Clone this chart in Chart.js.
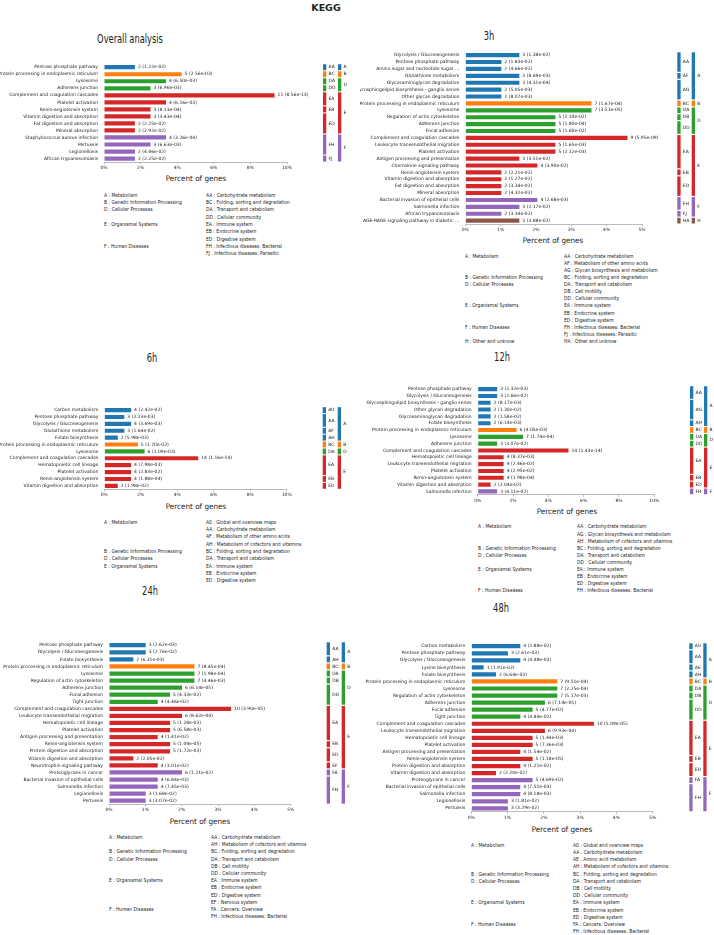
<!DOCTYPE html>
<html>
<head>
<meta charset="utf-8">
<script src="https://cdn.jsdelivr.net/npm/chart.js@4.4.1/dist/chart.umd.min.js"></script>
<style>
  body { margin: 0; background: #fff; }
  #fig { position: relative; width: 714px; height: 935px; background: #fff; overflow: hidden; font-family: 'DejaVu Sans', sans-serif; color: #222; }
  .t { position: absolute; white-space: nowrap; color: #222; }
</style>
</head>
<body>
<div id="fig"></div>
<script>
// ---- data ----
var overallPaths = ['Pentose phosphate pathway','Protein processing in endoplasmic reticulum','Lysosome','Adherens junction',
  'Complement and coagulation cascades','Platelet activation','Renin-angiotensin system','Vitamin digestion and absorption',
  'Fat digestion and absorption','Mineral absorption','Staphylococcus aureus infection','Pertussis','Legionellosis','African trypanosomiasis'];
var overallCounts = [2,5,4,3,11,4,3,3,2,2,4,3,2,2];
var overallPct = [1.69,4.24,3.39,2.54,9.32,3.39,2.54,2.54,1.69,1.69,3.39,2.54,1.69,1.69];
var overallPval = ['1.22e-02','2.56e-03','6.50e-03','6.96e-03','8.56e-13','6.16e-03','8.13e-04','3.43e-04','2.25e-02','2.92e-02','3.26e-04','6.63e-03','4.46e-02','2.25e-02'];
var overallSub = ['AA','BC','DA','DD','EA','EA','EB','ED','ED','ED','FH','FH','FH','FJ'];
var overallLegMain = ['A : Metabolism','B : Genetic Information Processing','D : Cellular Processes','','E : Organismal Systems','','','F : Human Diseases',''];
var overallLegSub = ['AA : Carbohydrate metabolism','BC : Folding, sorting and degradation','DA : Transport and catabolism','DD : Cellular community',
  'EA : Immune system','EB : Endocrine system','ED : Digestive system','FH : Infectious diseases: Bacterial','FJ : Infectious diseases: Parasitic'];

var h3Paths = ['Glycolysis / Gluconeogenesis','Pentose phosphate pathway','Amino sugar and nucleotide sugar ...','Glutathione metabolism',
  'Glycosaminoglycan degradation','Glycosphingolipid biosynthesis - ganglio series','Other glycan degradation',
  'Protein processing in endoplasmic reticulum','Lysosome','Regulation of actin cytoskeleton','Adherens junction','Focal adhesion',
  'Complement and coagulation cascades','Leukocyte transendothelial migration','Platelet activation','Antigen processing and presentation',
  'Chemokine signaling pathway','Renin-angiotensin system','Vitamin digestion and absorption','Fat digestion and absorption',
  'Mineral absorption','Bacterial invasion of epithelial cells','Salmonella infection','African trypanosomiasis',
  'AGE-RAGE signaling pathway in diabetic ...'];
var h3Counts = [3,2,2,3,3,2,2,7,7,5,5,5,9,5,5,3,4,2,2,2,2,4,3,2,3];
var h3Pct = [1.53,1.02,1.02,1.53,1.53,1.02,1.02,3.57,3.57,2.55,2.55,2.55,4.59,2.55,2.55,1.53,2.04,1.02,1.02,1.02,1.02,2.04,1.53,1.02,1.53];
var h3Pval = ['1.38e-02','1.83e-02','4.66e-02','8.69e-03','4.31e-04','5.05e-03','8.07e-03','1.67e-04','3.51e-05','2.10e-02','1.80e-04','1.60e-02',
  '5.95e-09','1.65e-03','2.12e-03','3.51e-02','3.90e-02','2.21e-02','1.27e-02','3.34e-02','4.32e-02','2.68e-03','2.17e-02','3.34e-02','3.88e-02'];
var h3Sub = ['AA','AA','AA','AF','AG','AG','AG','BC','DA','DB','DD','DD','EA','EA','EA','EA','EA','EB','ED','ED','ED','FH','FH','FJ','HA'];
var h3LegMain = ['A : Metabolism','','','B : Genetic Information Processing','D : Cellular Processes','','','E : Organismal Systems','','',
  'F : Human Diseases','','H : Other and unknow'];
var h3LegSub = ['AA : Carbohydrate metabolism','AF : Metabolism of other amino acids','AG : Glycan biosynthesis and metabolism',
  'BC : Folding, sorting and degradation','DA : Transport and catabolism','DB : Cell motility','DD : Cellular community',
  'EA : Immune system','EB : Endocrine system','ED : Digestive system','FH : Infectious diseases: Bacterial',
  'FJ : Infectious diseases: Parasitic','HA : Other and unknow'];

var h6Paths = ['Carbon metabolism','Pentose phosphate pathway','Glycolysis / Gluconeogenesis','Glutathione metabolism','Folate biosynthesis',
  'Protein processing in endoplasmic reticulum','Lysosome','Complement and coagulation cascades','Hematopoietic cell lineage',
  'Platelet activation','Renin-angiotensin system','Vitamin digestion and absorption'];
var h6Counts = [4,3,4,3,2,5,6,14,4,4,4,2];
var h6Pct = [1.47,1.10,1.47,1.10,0.74,1.84,2.21,5.15,1.47,1.47,1.47,0.74];
var h6Pval = ['2.42e-02','2.23e-03','3.69e-03','1.64e-02','5.98e-03','1.70e-02','1.09e-03','1.16e-14','7.98e-03','2.83e-02','1.88e-04','1.98e-02'];
var h6Sub = ['A0','AA','AA','AF','AH','BC','DA','EA','EA','EA','EB','ED'];
var h6LegMain = ['A : Metabolism','','','','B : Genetic Information Processing','D : Cellular Processes','E : Organismal Systems','',''];
var h6LegSub = ['A0 : Global and overview maps','AA : Carbohydrate metabolism','AF : Metabolism of other amino acids',
  'AH : Metabolism of cofactors and vitamins','BC : Folding, sorting and degradation','DA : Transport and catabolism',
  'EA : Immune system','EB : Endocrine system','ED : Digestive system'];

var h12Paths = ['Pentose phosphate pathway','Glycolysis / Gluconeogenesis','Glycosphingolipid biosynthesis - ganglio series',
  'Other glycan degradation','Glycosaminoglycan degradation','Folate biosynthesis','Protein processing in endoplasmic reticulum',
  'Lysosome','Adherens junction','Complement and coagulation cascades','Hematopoietic cell lineage',
  'Leukocyte transendothelial migration','Platelet activation','Renin-angiotensin system','Vitamin digestion and absorption',
  'Salmonella infection'];
var h12Counts = [3,3,2,2,2,2,6,7,3,14,4,4,4,4,2,3];
var h12Pct = [1.10,1.10,0.73,0.73,0.73,0.73,2.20,2.57,1.10,5.14,1.47,1.47,1.47,1.47,0.73,1.10];
var h12Pval = ['2.32e-03','2.66e-02','8.17e-03','1.30e-02','1.58e-02','6.14e-03','4.05e-03','1.74e-04','3.07e-02','1.43e-14',
  '8.37e-03','2.46e-02','2.95e-02','1.98e-04','2.04e-02','4.11e-02'];
var h12Sub = ['AA','AA','AG','AG','AG','AH','BC','DA','DD','EA','EA','EA','EA','EB','ED','FH'];
var h12LegMain = ['A : Metabolism','','','B : Genetic Information Processing','D : Cellular Processes','','E : Organismal Systems','','','F : Human Diseases'];
var h12LegSub = ['AA : Carbohydrate metabolism','AG : Glycan biosynthesis and metabolism','AH : Metabolism of cofactors and vitamins',
  'BC : Folding, sorting and degradation','DA : Transport and catabolism','DD : Cellular community','EA : Immune system',
  'EB : Endocrine system','ED : Digestive system','FH : Infectious diseases: Bacterial'];

var h24Paths = ['Pentose phosphate pathway','Glycolysis / Gluconeogenesis','Folate biosynthesis','Protein processing in endoplasmic reticulum',
  'Lysosome','Regulation of actin cytoskeleton','Adherens junction','Focal adhesion','Tight junction',
  'Complement and coagulation cascades','Leukocyte transendothelial migration','Hematopoietic cell lineage','Platelet activation',
  'Antigen processing and presentation','Renin-angiotensin system','Protein digestion and absorption',
  'Vitamin digestion and absorption','Neurotrophin signaling pathway','Proteoglycans in cancer',
  'Bacterial invasion of epithelial cells','Salmonella infection','Legionellosis','Pertussis'];
var h24Counts = [3,3,2,7,7,7,6,5,4,10,6,5,5,4,5,5,2,4,6,4,4,3,3];
var h24Pct = [1.01,1.01,0.67,2.35,2.35,2.35,2.01,1.68,1.34,3.36,2.01,1.68,1.68,1.34,1.68,1.68,0.67,1.34,2.01,1.34,1.34,1.01,1.01];
var h24Pval = ['2.62e-03','2.76e-02','6.31e-03','8.45e-04','1.98e-04','4.46e-03','6.14e-05','4.33e-02','4.46e-02','3.90e-05',
  '8.62e-04','1.28e-03','6.58e-03','1.41e-02','1.04e-05','1.72e-03','2.05e-02','3.01e-02','1.21e-02','6.84e-03','7.45e-03',
  '1.68e-02','3.07e-02'];
var h24Sub = ['AA','AA','AH','BC','DA','DB','DD','DD','DD','EA','EA','EA','EA','EA','EB','ED','ED','EF','FA','FH','FH','FH','FH'];
var h24LegMain = ['A : Metabolism','','B : Genetic Information Processing','D : Cellular Processes','','','E : Organismal Systems','','','',
  'F : Human Diseases',''];
var h24LegSub = ['AA : Carbohydrate metabolism','AH : Metabolism of cofactors and vitamins','BC : Folding, sorting and degradation',
  'DA : Transport and catabolism','DB : Cell motility','DD : Cellular community','EA : Immune system','EB : Endocrine system',
  'ED : Digestive system','EF : Nervous system','FA : Cancers: Overview','FH : Infectious diseases: Bacterial'];

var h48Paths = ['Carbon metabolism','Pentose phosphate pathway','Glycolysis / Gluconeogenesis','Lysine biosynthesis','Folate biosynthesis',
  'Protein processing in endoplasmic reticulum','Lysosome','Regulation of actin cytoskeleton','Adherens junction','Focal adhesion',
  'Tight junction','Complement and coagulation cascades','Leukocyte transendothelial migration','Hematopoietic cell lineage',
  'Platelet activation','Antigen processing and presentation','Renin-angiotensin system','Protein digestion and absorption',
  'Vitamin digestion and absorption','Proteoglycans in cancer','Bacterial invasion of epithelial cells','Salmonella infection',
  'Legionellosis','Pertussis'];
var h48Counts = [4,3,4,1,2,7,7,7,6,5,4,10,6,5,5,4,5,4,2,5,4,4,3,3];
var h48Pct = [1.35,1.01,1.35,0.34,0.68,2.37,2.37,2.37,2.03,1.69,1.35,3.38,2.03,1.69,1.69,1.35,1.69,1.35,0.68,1.69,1.35,1.35,1.01,1.01];
var h48Pval = ['2.88e-02','2.61e-03','4.48e-03','1.91e-02','6.64e-03','9.51e-04','2.25e-04','5.17e-03','7.14e-05','4.77e-02',
  '4.84e-02','5.09e-05','9.93e-04','1.44e-03','7.36e-03','1.54e-02','1.18e-05','1.21e-02','2.20e-02','4.69e-02','7.51e-03',
  '8.18e-03','1.81e-02','3.29e-02'];
var h48Sub = ['A0','AA','AA','AE','AH','BC','DA','DB','DD','DD','DD','EA','EA','EA','EA','EA','EB','ED','ED','FA','FH','FH','FH','FH'];
var h48LegMain = ['A : Metabolism','','','','B : Genetic Information Processing','D : Cellular Processes','','','E : Organismal Systems','','',
  'F : Human Diseases',''];
var h48LegSub = ['A0 : Global and overview maps','AA : Carbohydrate metabolism','AE : Amino acid metabolism',
  'AH : Metabolism of cofactors and vitamins','BC : Folding, sorting and degradation','DA : Transport and catabolism',
  'DB : Cell motility','DD : Cellular community','EA : Immune system','EB : Endocrine system','ED : Digestive system',
  'FA : Cancers: Overview','FH : Infectious diseases: Bacterial'];

// ---- styling / layout ----
var colorOf = {A:'#1f77b4', B:'#ff7f0e', D:'#2ca02c', E:'#d62728', F:'#9467bd', H:'#8c564b'};
var FONT = "'DejaVu Sans', sans-serif";
var SMALL = 4.5;
var fig = document.getElementById('fig');

function addText(txt, x, y, size, opt){
  opt = opt || {};
  var d = document.createElement('div');
  d.className = 't';
  d.textContent = txt;
  if (opt.bold) d.style.fontWeight = 'bold';
  d.style.left = x + 'px';
  if (opt.center) {
    d.style.fontSize = size + 'px';
    d.style.lineHeight = size + 'px';
    d.style.top = (y - size/2) + 'px';
    d.style.transform = 'translateX(-50%) scaleX(' + (opt.sx || 1) + ')';
  } else {
    // tiny text: draw at double size then scale down
    d.style.fontSize = (size*2) + 'px';
    d.style.lineHeight = (size*2) + 'px';
    d.style.top = (y - size/2) + 'px';
    d.style.transformOrigin = 'left top';
    d.style.transform = 'scale(0.5)';
  }
  fig.appendChild(d);
}

function groupsOf(codes, keyFn){
  var out = [];
  codes.forEach(function(c, i){
    var k = keyFn(c);
    var last = out[out.length-1];
    if (last && last.key === k) last.end = i;
    else out.push({key:k, start:i, end:i});
  });
  return out;
}

function renderPanel(p){
  var n = p.paths.length;
  var band = (p.lastRow - p.firstRow) / (n - 1);
  var rowTop = p.firstRow - band/2, rowBottom = p.lastRow + band/2;
  var canvasTop = rowTop - 4;
  var H = Math.ceil(rowBottom - canvasTop + 10);
  var xh = H - (rowBottom - canvasTop);
  var W = p.right - p.left;
  var cv = document.createElement('canvas');
  cv.width = W; cv.height = H;
  cv.style.cssText = 'position:absolute;left:'+p.left+'px;top:'+canvasTop+'px;width:'+W+'px;height:'+H+'px';
  fig.appendChild(cv);

  var sidePlugin = {
    id: 'side'+p.left+'_'+p.firstRow,
    afterDraw: function(chart){
      var ctx = chart.ctx, y = chart.scales.y, x = chart.scales.x;
      ctx.save();
      ctx.font = SMALL + 'px ' + FONT;
      ctx.textBaseline = 'middle';
      ctx.textAlign = 'left';
      function draw(groups, xAbs){
        groups.forEach(function(g){
          var t = y.getPixelForValue(g.start) - band/2 + 0.7;
          var b = y.getPixelForValue(g.end) + band/2 - 0.7;
          ctx.fillStyle = colorOf[g.key[0]];
          ctx.fillRect(xAbs - p.left, t, 3.3, b - t);
          ctx.fillStyle = '#222';
          ctx.fillText(g.key, xAbs - p.left + 5.5, (t + b)/2);
        });
      }
      draw(groupsOf(p.sub, function(c){ return c; }), p.subX);
      draw(groupsOf(p.sub, function(c){ return c[0]; }), p.mainX);
      ctx.fillStyle = '#222';
      p.pct.forEach(function(v, i){
        ctx.fillText(p.counts[i] + ' (' + p.pval[i] + ')', x.getPixelForValue(v) + 3, y.getPixelForValue(i));
      });
      ctx.restore();
    }
  };

  new Chart(cv, {
    type: 'bar',
    data: {
      labels: p.paths,
      datasets: [{
        data: p.pct,
        backgroundColor: p.sub.map(function(s){ return colorOf[s[0]]; }),
        borderWidth: 0,
        barPercentage: 0.6,
        categoryPercentage: 1.0
      }]
    },
    options: {
      indexAxis: 'y',
      responsive: false,
      maintainAspectRatio: false,
      animation: false,
      layout: { padding: { top: rowTop - canvasTop, right: p.right - p.plotRight, left: 0, bottom: 0 } },
      plugins: { legend: { display: false }, tooltip: { enabled: false } },
      scales: {
        x: {
          type: 'linear', min: 0, max: p.max,
          ticks: { stepSize: p.step, padding: 1, maxRotation: 0, color: '#222',
            font: { family: FONT, size: SMALL },
            callback: function(v){ return v + '%'; } },
          grid: { drawOnChartArea: false, drawTicks: true, tickLength: 2, color: '#bbb' },
          border: { display: true, color: '#bbb', width: 1 },
          afterFit: function(s){ s.height = xh; }
        },
        y: {
          ticks: { autoSkip: false, padding: 6, color: '#222', font: { family: FONT, size: SMALL } },
          grid: { display: false, drawTicks: false },
          border: { display: false },
          afterFit: function(s){ s.width = p.plotLeft - p.left; }
        }
      }
    },
    plugins: [sidePlugin]
  });

  addText(p.title, p.titleX, p.titleY, 11.5, {center: true, sx: 0.72});
  addText('Percent of genes', p.xlabX, p.xlabY, 7.6, {center: true, sx: 0.95});
  p.legMain.forEach(function(t, i){ if (t) addText(t, p.legX1, p.legY + i*p.legStep, SMALL); });
  p.legSub.forEach(function(t, i){ if (t) addText(t, p.legX2, p.legY + i*p.legStep, SMALL); });
}

addText('KEGG', 326, 7.5, 9.5, {center: true, bold: true});

renderPanel({paths: overallPaths, counts: overallCounts, pct: overallPct, pval: overallPval, sub: overallSub,
  legMain: overallLegMain, legSub: overallLegSub, title: 'Overall analysis',
  left: 0, right: 360, plotLeft: 104, plotRight: 287, firstRow: 63, lastRow: 158.7, max: 10, step: 2,
  subX: 323, mainX: 338, titleX: 129.5, titleY: 40, xlabX: 195.5, xlabY: 179,
  legY: 195, legStep: 7.3, legX1: 104, legX2: 206});

renderPanel({paths: h3Paths, counts: h3Counts, pct: h3Pct, pval: h3Pval, sub: h3Sub,
  legMain: h3LegMain, legSub: h3LegSub, title: '3h',
  left: 360, right: 714, plotLeft: 465.3, plotRight: 642, firstRow: 50.7, lastRow: 220.7, max: 5, step: 1,
  subX: 677.3, mainX: 691.7, titleX: 489, titleY: 37, xlabX: 553.3, xlabY: 241,
  legY: 256, legStep: 7.1, legX1: 465.3, legX2: 564});

renderPanel({paths: h6Paths, counts: h6Counts, pct: h6Pct, pval: h6Pval, sub: h6Sub,
  legMain: h6LegMain, legSub: h6LegSub, title: '6h',
  left: 0, right: 360, plotLeft: 104.3, plotRight: 286.7, firstRow: 405.7, lastRow: 485.7, max: 10, step: 2,
  subX: 322.7, mainX: 337.7, titleX: 151.7, titleY: 359, xlabX: 195.5, xlabY: 506.7,
  legY: 522, legStep: 7.3, legX1: 104.3, legX2: 206.3});

renderPanel({paths: h12Paths, counts: h12Counts, pct: h12Pct, pval: h12Pval, sub: h12Sub,
  legMain: h12LegMain, legSub: h12LegSub, title: '12h',
  left: 360, right: 714, plotLeft: 477.7, plotRight: 654.3, firstRow: 385, lastRow: 491.7, max: 10, step: 2,
  subX: 690, mainX: 704, titleX: 501.7, titleY: 358, xlabX: 566.7, xlabY: 512,
  legY: 526.7, legStep: 7.1, legX1: 477.7, legX2: 576.7});

renderPanel({paths: h24Paths, counts: h24Counts, pct: h24Pct, pval: h24Pval, sub: h24Sub,
  legMain: h24LegMain, legSub: h24LegSub, title: '24h',
  left: 0, right: 360, plotLeft: 109, plotRight: 290.7, firstRow: 641, lastRow: 801, max: 5, step: 1,
  subX: 326.7, mainX: 341.7, titleX: 150, titleY: 592, xlabX: 200, xlabY: 821.7,
  legY: 837.3, legStep: 7.2, legX1: 109, legX2: 210.7});

renderPanel({paths: h48Paths, counts: h48Counts, pct: h48Pct, pval: h48Pval, sub: h48Sub,
  legMain: h48LegMain, legSub: h48LegSub, title: '48h',
  left: 360, right: 714, plotLeft: 471.3, plotRight: 652.7, firstRow: 641.7, lastRow: 808.3, max: 5, step: 1,
  subX: 689.3, mainX: 703.3, titleX: 500.7, titleY: 608.3, xlabX: 562, xlabY: 829.3,
  legY: 845, legStep: 7.2, legX1: 471.3, legX2: 572.7});
</script>
</body>
</html>
